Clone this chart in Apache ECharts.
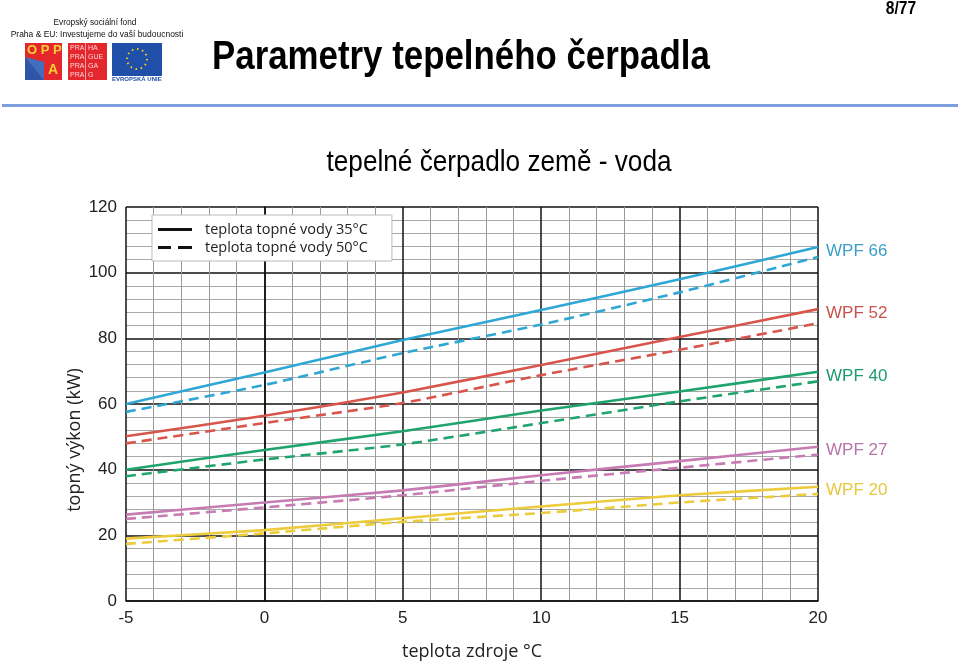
<!DOCTYPE html>
<html>
<head>
<meta charset="utf-8">
<script src="https://cdn.jsdelivr.net/npm/echarts@6/dist/echarts.min.js"></script>
<style>
html,body{margin:0;padding:0;background:#fff;}
#c{width:960px;height:672px;}
</style>
</head>
<body>
<div id="c"></div>
<script>
// Data
var xValues = [-5, 0, 5, 10, 15, 20];
var seriesNames = ['WPF 66', 'WPF 52', 'WPF 40', 'WPF 27', 'WPF 20'];
var wpf66_35 = [60, 69.6, 79.5, 88.6, 98, 107.8];
var wpf66_50 = [57.6, 65.8, 75.5, 84.2, 94, 104.8];
var wpf52_35 = [50.2, 56.4, 63.5, 71.9, 80.4, 88.9];
var wpf52_50 = [48.0, 54.2, 60.3, 68.8, 76.5, 84.6];
var wpf40_35 = [40, 46.0, 51.7, 58.0, 63.8, 69.8];
var wpf40_50 = [38.0, 43.1, 47.7, 54.2, 60.8, 66.9];
var wpf27_35 = [26.3, 30.0, 33.7, 38.3, 42.6, 47.0];
var wpf27_50 = [25.0, 28.5, 32.2, 36.6, 40.6, 44.6];
var wpf20_35 = [19.0, 21.6, 25.2, 28.8, 32.2, 34.8];
var wpf20_50 = [17.4, 20.6, 24.1, 26.8, 30.0, 32.6];
var legendNames = ['teplota topné vody 35°C', 'teplota topné vody 50°C'];
var colors = ['#2fa7d4', '#d8554c', '#1fa46e', '#c77bb3', '#eccb3c'];
var labelColors = ['#3a9fc6', '#c9534b', '#1f9a6e', '#b774a8', '#e3c840'];

var solidData = [wpf66_35, wpf52_35, wpf40_35, wpf27_35, wpf20_35];
var dashData = [wpf66_50, wpf52_50, wpf40_50, wpf27_50, wpf20_50];

function pairs(arr) {
  return xValues.map(function (x, i) { return [x, arr[i]]; });
}

var series = [];
// legend dummy series
series.push({
  name: legendNames[0], type: 'line', data: [], symbol: 'none',
  itemStyle: {color: '#111'}, lineStyle: {color: '#111', width: 2.5, type: 'solid'}
});
series.push({
  name: legendNames[1], type: 'line', data: [], symbol: 'none',
  itemStyle: {color: '#111'}, lineStyle: {color: '#111', width: 2.5, type: [10, 6]}
});
for (var i = 0; i < seriesNames.length; i++) {
  series.push({
    name: seriesNames[i], type: 'line', data: pairs(dashData[i]),
    symbol: 'none', smooth: 0.2, silent: true, z: 3,
    lineStyle: {color: colors[i], width: 2.6, type: [10, 6]}
  });
  series.push({
    name: seriesNames[i], type: 'line', data: pairs(solidData[i]),
    symbol: 'none', smooth: 0.2, silent: true, z: 4,
    lineStyle: {color: colors[i], width: 2.6},
    endLabel: {
      show: true, formatter: seriesNames[i], color: labelColors[i],
      fontFamily: 'Liberation Sans', fontSize: 17, distance: 8,
      offset: [0, 4]
    }
  });
}

var chart = echarts.init(document.getElementById('c'), null, {renderer: 'canvas'});
chart.setOption({
  animation: false,
  backgroundColor: '#fff',
  grid: {left: 126, right: 142, top: 207, bottom: 71, containLabel: false},
  legend: {
    data: [
      {name: legendNames[0], icon: 'path://M0,0h34v3h-34z'},
      {name: legendNames[1], icon: 'path://M0,0h13v3h-13z M20,0h14v3h-14z'}
    ],
    left: 152, top: 215,
    orient: 'vertical',
    backgroundColor: '#fff',
    borderColor: '#bbb', borderWidth: 1,
    padding: [7, 24, 6, 6],
    itemWidth: 34, itemHeight: 3, itemGap: 3,
    selectedMode: false,
    itemStyle: {color: '#111'},
    textStyle: {fontFamily: 'Open Sans', fontSize: 14.5, color: '#222', padding: [0, 0, 0, 8], lineHeight: 12}
  },
  xAxis: {
    type: 'value', min: -5, max: 20, interval: 5,
    name: 'teplota zdroje °C', nameLocation: 'middle', nameGap: 42,
    nameTextStyle: {fontFamily: 'Open Sans', fontSize: 18, color: '#222'},
    axisLine: {show: true, lineStyle: {color: '#111', width: 1.5}},
    axisTick: {show: false},
    axisLabel: {fontFamily: 'Liberation Sans', fontSize: 17, color: '#222', margin: 9},
    splitLine: {show: true, lineStyle: {color: '#111', width: 1.5}},
    minorTick: {show: false, splitNumber: 5},
    minorSplitLine: {show: true, lineStyle: {color: '#9a9a9a', width: 1}}
  },
  yAxis: {
    type: 'value', min: 0, max: 120, interval: 20,
    axisLine: {show: true, lineStyle: {color: '#111', width: 1.5}},
    axisTick: {show: false},
    axisLabel: {fontFamily: 'Liberation Sans', fontSize: 17, color: '#222', margin: 9},
    splitLine: {show: true, lineStyle: {color: '#111', width: 1.5}},
    minorTick: {show: false, splitNumber: 5},
    minorSplitLine: {show: true, lineStyle: {color: '#a8a8a8', width: 1}}
  },
  series: series,
  graphic: [
    // y axis title
    {type: 'text', x: 75, y: 440, rotation: Math.PI / 2,
      style: {text: 'topný výkon (kW)', font: '18px "Open Sans"', fill: '#222', textAlign: 'center', textVerticalAlign: 'middle'}},
    // header text
    {type: 'text', x: 95, y: 23, scaleX: 0.92,
      style: {text: 'Evropský sociální fond', font: '9px "Liberation Sans"', fill: '#111', textAlign: 'center', textVerticalAlign: 'middle'}},
    {type: 'text', x: 97, y: 35, scaleX: 0.94,
      style: {text: 'Praha & EU: Investujeme do vaší budoucnosti', font: '9px "Liberation Sans"', fill: '#111', textAlign: 'center', textVerticalAlign: 'middle'}},
    // OPP A logo
    {type: 'rect', shape: {x: 25, y: 43, width: 37, height: 37}, style: {fill: '#e4262d'}},
    {type: 'polygon', shape: {points: [[25, 57], [25, 80], [44, 80]]}, style: {fill: '#2d57a6'}},
    {type: 'polygon', shape: {points: [[25, 57], [44, 80], [44, 62]]}, style: {fill: '#3f6fc0'}},
    {type: 'text', left: 27, top: 44, style: {text: 'O P P', font: 'bold 13px "Liberation Sans"', fill: '#f6d230'}},
    {type: 'text', left: 48, top: 63, style: {text: 'A', font: 'bold 14px "Liberation Sans"', fill: '#f6d230'}},
    // PRAHA logo
    {type: 'rect', shape: {x: 68, y: 43, width: 39, height: 37}, style: {fill: '#e4262d'}},
    {type: 'rect', shape: {x: 85, y: 43, width: 1, height: 37}, style: {fill: '#f4a0a0'}},
    {type: 'text', left: 70, top: 44, style: {text: 'PRA\nPRA\nPRA\nPRA', font: '7px "Liberation Sans"', lineHeight: 9, fill: '#fbd7d7'}},
    {type: 'text', left: 88, top: 44, style: {text: 'HA\nGUE\nGA\nG', font: '7px "Liberation Sans"', lineHeight: 9, fill: '#fbd7d7'}},
    // EU flag
    {type: 'rect', shape: {x: 112, y: 43, width: 50, height: 33}, style: {fill: '#1f4fa8'}},
    {type: 'circle', shape: {cx: 137, cy: 59, r: 10}, style: {fill: 'none', stroke: '#f7d21c', lineWidth: 2, lineDash: [1.5, 3.7]}},
    {type: 'text', left: 112, top: 76, style: {text: 'EVROPSKÁ UNIE', font: 'bold 6px "Liberation Sans"', fill: '#1f4fa8'}},
    // title
    {type: 'text', x: 212, y: 58, scaleX: 0.85,
      style: {text: 'Parametry tepelného čerpadla', font: 'bold 41px "Liberation Sans"', fill: '#000', textAlign: 'left', textVerticalAlign: 'middle'}},
    {type: 'text', x: 901, y: 9, scaleX: 0.82,
      style: {text: '8/77', font: 'bold 19px "Liberation Sans"', fill: '#000', textAlign: 'center', textVerticalAlign: 'middle'}},
    // blue separator line
    {type: 'rect', shape: {x: 2, y: 104, width: 956, height: 3}, style: {fill: '#7d9fe0'}},
    // subtitle
    {type: 'text', x: 499, y: 163, scaleX: 0.873,
      style: {text: 'tepelné čerpadlo země - voda', font: '30px "Liberation Sans"', fill: '#000', textAlign: 'center', textVerticalAlign: 'middle'}}
  ]
});
</script>
</body>
</html>
